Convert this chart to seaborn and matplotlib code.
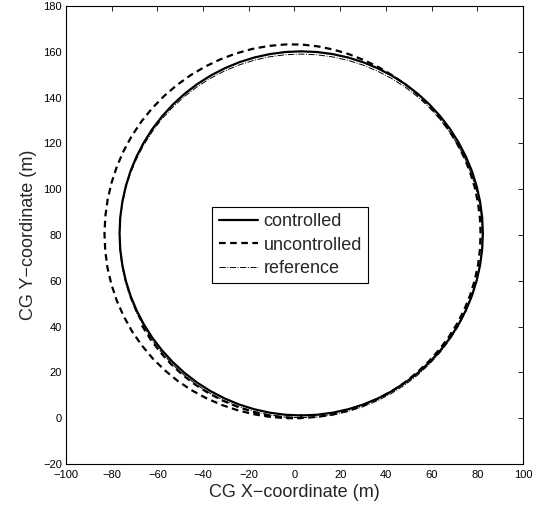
import matplotlib
matplotlib.use("Agg")
import matplotlib.pyplot as plt
import pandas as pd
import seaborn as sns

# ---- data (metres) ----
ctrl_x = [2.95, 9.88, 16.75, 23.52, 30.14, 36.55, 42.7, 48.55, 54.05, 59.16, 63.85,
          68.08, 71.8, 75.0, 77.66, 79.74, 81.24, 82.15, 82.45,
          82.15, 81.24, 79.74, 77.66, 75.0, 71.8, 68.08, 63.85, 59.16, 54.05,
          48.55, 42.7, 36.55, 30.14, 23.52, 16.75, 9.88, 2.95,
          -3.98, -10.85, -17.62, -24.24, -30.65, -36.8, -42.65, -48.15, -53.26,
          -57.95, -62.18, -65.9, -69.1, -71.76, -73.84, -75.34, -76.25, -76.55,
          -76.25, -75.34, -73.84, -71.76, -69.1, -65.9, -62.18, -57.95, -53.26,
          -48.15, -42.65, -36.8, -30.65, -24.24, -17.62, -10.85, -3.98, 2.95]
ctrl_y = [1.2, 1.5, 2.41, 3.91, 5.99, 8.65, 11.85, 15.57, 19.8, 24.49, 29.6,
          35.1, 40.95, 47.1, 53.51, 60.13, 66.9, 73.77, 80.7,
          87.63, 94.5, 101.27, 107.89, 114.3, 120.45, 126.3, 131.8, 136.91, 141.6,
          145.83, 149.55, 152.75, 155.41, 157.49, 158.99, 159.9, 160.2,
          159.9, 158.99, 157.49, 155.41, 152.75, 149.55, 145.83, 141.6, 136.91,
          131.8, 126.3, 120.45, 114.3, 107.89, 101.27, 94.5, 87.63, 80.7,
          73.77, 66.9, 60.13, 53.51, 47.1, 40.95, 35.1, 29.6, 24.49,
          19.8, 15.57, 11.85, 8.65, 5.99, 3.91, 2.41, 1.5, 1.2]

unc_x = [-66.76, -63.04, -58.79, -54.08, -48.92, -43.34, -37.4, -31.15, -24.65,
         -17.94, -11.06, -4.08, 2.95, 9.97, 16.89, 23.68, 30.28, 36.63, 42.7,
         48.44, 53.8, 58.81, 63.39, 67.54, 71.19, 74.32, 76.9, 78.92, 80.36,
         81.2, 81.45, 81.15, 80.26, 78.82, 76.81, 74.23, 71.1, 67.5, 63.39,
         58.85, 53.86, 48.52, 42.8, 36.8, 30.48, 23.91, 17.1, 10.1, 2.95,
         -4.27, -11.48, -18.62, -25.64, -32.48, -39.1, -45.43, -51.43, -57.05,
         -62.24, -66.93, -71.09, -74.67, -77.68, -80.02, -81.74, -82.77, -83.15,
         -82.82, -81.84, -80.12, -77.77, -74.72, -71.09, -66.85, -62.08, -56.8,
         -51.11, -45.0, -38.6, -31.96, -25.13, -18.19, -11.16, -4.11, 2.95]
unc_y = [40.45, 34.5, 28.89, 23.67, 18.88, 14.59, 10.81, 7.56, 4.87,
         2.75, 1.23, 0.36, 0.1, 0.56, 1.62, 3.33, 5.62, 8.47, 11.85,
         15.74, 20.11, 24.84, 29.98, 35.47, 41.3, 47.42, 53.78, 60.35, 67.06,
         73.85, 80.7, 87.55, 94.33, 101.03, 107.58, 113.94, 120.05, 125.9, 131.42,
         136.6, 141.37, 145.79, 149.72, 153.3, 156.35, 158.94, 160.96, 162.39, 163.2,
         163.19, 162.54, 161.21, 159.26, 156.69, 153.53, 149.8, 145.5, 140.7,
         135.4, 129.63, 123.45, 116.9, 110.04, 102.93, 95.63, 88.2, 80.7,
         73.19, 65.75, 58.44, 51.32, 44.48, 37.95, 31.83, 26.13, 20.95,
         16.28, 12.21, 8.74, 5.84, 3.55, 1.79, 0.64, 0.01, 0.0]

ref_x = [2.8, 9.72, 16.58, 23.35, 29.95, 36.35, 42.5, 48.34, 53.84, 58.94, 63.62,
         67.84, 71.56, 74.76, 77.41, 79.49, 80.99, 81.9, 82.2,
         81.9, 80.99, 79.49, 77.41, 74.76, 71.56, 67.84, 63.62, 58.94, 53.84,
         48.34, 42.5, 36.35, 29.95, 23.35, 16.58, 9.72, 2.8,
         -4.12, -10.98, -17.75, -24.35, -30.75, -36.9, -42.74, -48.24, -53.34,
         -58.02, -62.24, -65.96, -69.16, -71.81, -73.89, -75.39, -76.3, -76.6,
         -76.3, -75.39, -73.89, -71.81, -69.16, -65.96, -62.24, -58.02, -53.34,
         -48.24, -42.74, -36.9, -30.75, -24.35, -17.75, -10.98, -4.12, 2.8]
ref_y = [0.2, 0.5, 1.41, 2.91, 4.99, 7.64, 10.84, 14.56, 18.78, 23.46, 28.56,
         34.06, 39.9, 46.05, 52.45, 59.05, 65.82, 72.68, 79.6,
         86.52, 93.38, 100.15, 106.75, 113.15, 119.3, 125.14, 130.64, 135.74, 140.42,
         144.64, 148.36, 151.56, 154.21, 156.29, 157.79, 158.7, 159.0,
         158.7, 157.79, 156.29, 154.21, 151.56, 148.36, 144.64, 140.42, 135.74,
         130.64, 125.14, 119.3, 113.15, 106.75, 100.15, 93.38, 86.52, 79.6,
         72.68, 65.82, 59.05, 52.45, 46.05, 39.9, 34.06, 28.56, 23.46,
         18.78, 14.56, 10.84, 7.64, 4.99, 2.91, 1.41, 0.5, 0.2]

x_ticks = [-100, -80, -60, -40, -20, 0, 20, 40, 60, 80, 100]
y_ticks = [-20, 0, 20, 40, 60, 80, 100, 120, 140, 160, 180]

ctrl = pd.DataFrame({"x": ctrl_x, "y": ctrl_y})
unc = pd.DataFrame({"x": unc_x, "y": unc_y})
ref = pd.DataFrame({"x": ref_x, "y": ref_y})

sns.set_style("white")
plt.rcParams["font.family"] = ["Liberation Sans", "DejaVu Sans"]

fig = plt.figure(figsize=(5.43, 5.08), dpi=100)
ax = fig.add_axes([0.1215, 0.0866, 0.8416, 0.9016])

sns.lineplot(data=ctrl, x="x", y="y", sort=False, estimator=None, ax=ax,
             color="black", linewidth=1.6, label="controlled")
ax.lines[-1].set_solid_joinstyle("round")
sns.lineplot(data=unc, x="x", y="y", sort=False, estimator=None, ax=ax,
             color="black", linewidth=1.6, label="uncontrolled")
ax.lines[-1].set_dashes((3, 2))
ax.lines[-1].set_dash_joinstyle("round")
sns.lineplot(data=ref, x="x", y="y", sort=False, estimator=None, ax=ax,
             color="black", linewidth=0.7, label="reference")
ax.lines[-1].set_linestyle("-.")

ax.set_xlim(-100, 100)
ax.set_ylim(-20, 180)
ax.set_xticks(x_ticks)
ax.set_yticks(y_ticks)
ax.set_xticklabels([f"{v}".replace("-", "\u2212") for v in x_ticks])
ax.set_yticklabels([f"{v}".replace("-", "\u2212") for v in y_ticks])
ax.tick_params(direction="in", length=3.6, width=0.6, top=True, right=True,
               labelsize=8, pad=3, colors="black")
ax.tick_params(axis="x", pad=4.5)
for sp in ax.spines.values():
    sp.set_visible(True)
    sp.set_linewidth(0.8)
    sp.set_color("black")

ax.set_xlabel("CG X\u2212coordinate (m)", fontsize=13, labelpad=3)
ax.set_ylabel("CG Y\u2212coordinate (m)", fontsize=13, labelpad=4)

leg = ax.legend(loc="center", bbox_to_anchor=(0.491, 0.478), fontsize=13,
                frameon=True, fancybox=False, framealpha=1, edgecolor="black",
                handlelength=2.2, handletextpad=0.3, borderpad=0.35,
                labelspacing=0.35, borderaxespad=0)
leg.get_frame().set_linewidth(0.8)

fig.savefig("out.png", dpi=100)
